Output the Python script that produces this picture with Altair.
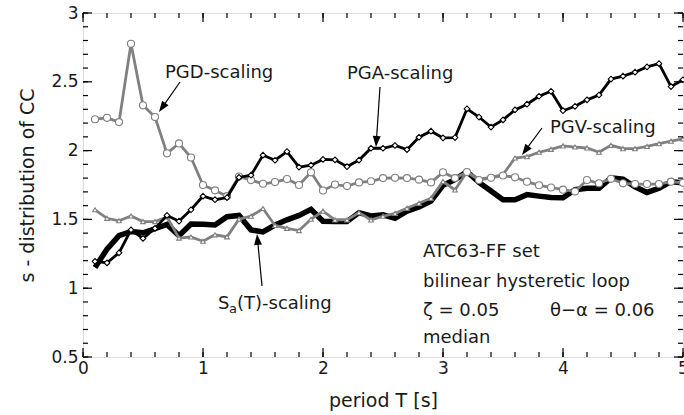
import math
import altair as alt
import pandas as pd

# ---------------- data ----------------
T = [round(0.1 * i, 1) for i in range(1, 51)]

PGA = [1.195, 1.184, 1.257, 1.424, 1.362, 1.435, 1.529, 1.487, 1.570, 1.669,
       1.643, 1.659, 1.805, 1.821, 1.967, 1.930, 1.993, 1.880, 1.894, 1.936,
       1.933, 1.883, 1.931, 2.017, 2.017, 2.037, 2.007, 2.097, 2.141, 2.092,
       2.095, 2.304, 2.244, 2.171, 2.223, 2.296, 2.337, 2.395, 2.431, 2.290,
       2.322, 2.369, 2.404, 2.520, 2.541, 2.570, 2.608, 2.632, 2.465, 2.515]

PGD = [2.228, 2.238, 2.207, 2.776, 2.329, 2.244, 1.980, 2.052, 1.950, 1.750,
       1.711, 1.669, 1.812, 1.786, 1.759, 1.771, 1.793, 1.750, 1.842, 1.710,
       1.753, 1.742, 1.769, 1.777, 1.800, 1.802, 1.800, 1.789, 1.769, 1.842,
       1.800, 1.844, 1.786, 1.802, 1.819, 1.806, 1.774, 1.748, 1.732, 1.716,
       1.702, 1.786, 1.762, 1.795, 1.762, 1.757, 1.757, 1.757, 1.774, 1.766]

PGV = [1.570, 1.508, 1.490, 1.525, 1.484, 1.484, 1.518, 1.364, 1.372, 1.341,
       1.388, 1.373, 1.502, 1.523, 1.579, 1.456, 1.435, 1.419, 1.501, 1.560,
       1.496, 1.496, 1.549, 1.496, 1.523, 1.544, 1.581, 1.617, 1.654, 1.775,
       1.714, 1.847, 1.792, 1.806, 1.826, 1.946, 1.956, 1.988, 2.009, 2.034,
       2.026, 2.019, 1.988, 2.038, 2.014, 2.014, 2.030, 2.050, 2.068, 2.085]

SA = [1.151, 1.283, 1.382, 1.412, 1.403, 1.432, 1.463, 1.382, 1.466, 1.464,
      1.460, 1.520, 1.529, 1.424, 1.409, 1.459, 1.497, 1.529, 1.573, 1.487,
      1.484, 1.484, 1.549, 1.525, 1.533, 1.508, 1.560, 1.591, 1.633, 1.748,
      1.789, 1.847, 1.769, 1.706, 1.643, 1.643, 1.680, 1.669, 1.659, 1.657,
      1.716, 1.726, 1.726, 1.802, 1.792, 1.737, 1.696, 1.726, 1.774, 1.766]

X_TICKS = [0, 1, 2, 3, 4, 5]
X_MINOR = [round(0.2 * i, 1) for i in range(26)]
Y_TICKS = [0.5, 1.0, 1.5, 2.0, 2.5, 3.0]
Y_MINOR = [round(0.5 + 0.1 * i, 1) for i in range(26)]

# ---------------- layout ----------------
PAD_L, PAD_T = 83, 13
W, H = 600, 344
FONT = "DejaVu Sans"
GREY = "#808080"
TXT = "#1a1a1a"

df = pd.DataFrame({"T": T, "PGA": PGA, "PGD": PGD, "PGV": PGV, "SA": SA})

xs = alt.Scale(domain=[0, 5], nice=False, zero=False)
ys = alt.Scale(domain=[0.5, 3], nice=False, zero=False)

xaxis = alt.Axis(values=X_TICKS, format="d", title="period T [s]",
                 labelFontSize=17, labelFont=FONT, labelColor=TXT, labelPadding=3,
                 titleFontSize=19, titleFont=FONT, titleFontWeight="normal", titleColor=TXT,
                 titleX=W / 2, titleY=43, titleBaseline="middle",
                 ticks=False, domain=False, grid=False, labelFlush=False)
yaxis = alt.Axis(values=Y_TICKS, format="~g", title="s - distribution of CC",
                 labelFontSize=17, labelFont=FONT, labelColor=TXT, labelPadding=5,
                 titleFontSize=19, titleFont=FONT, titleFontWeight="normal", titleColor=TXT,
                 titleX=-56, titleY=H / 2, titleAngle=270, titleAlign="center",
                 titleBaseline="middle",
                 ticks=False, domain=False, grid=False, labelFlush=False)

base = alt.Chart(df)

sa_line = base.mark_line(color="black", strokeWidth=5.5, strokeJoin="miter").encode(
    x=alt.X("T:Q", scale=xs, axis=xaxis), y=alt.Y("SA:Q", scale=ys, axis=yaxis))

def series(col, color, shape, size, width=2.8):
    line = base.mark_line(color=color, strokeWidth=width, strokeJoin="miter").encode(
        x=alt.X("T:Q", scale=xs), y=alt.Y(f"{col}:Q", scale=ys))
    pts = base.mark_point(shape=shape, size=size, filled=True, fill="white",
                          stroke=color, strokeWidth=1.1, opacity=1).encode(
        x=alt.X("T:Q", scale=xs), y=alt.Y(f"{col}:Q", scale=ys))
    return [line, pts]

layers = [sa_line]
layers += series("PGV", GREY, "triangle-up", 22)
layers += series("PGD", GREY, "circle", 50)
layers += series("PGA", "black", "diamond", 32)

# inward ticks on all four sides
def tick_rules(vals, length, orient):
    d = pd.DataFrame({"v": vals})
    c = alt.Chart(d).mark_rule(color="black", strokeWidth=1.2)
    if orient == "bottom":
        return c.encode(x=alt.X("v:Q", scale=xs), y=alt.value(H), y2=alt.value(H - length))
    if orient == "top":
        return c.encode(x=alt.X("v:Q", scale=xs), y=alt.value(0), y2=alt.value(length))
    if orient == "left":
        return c.encode(y=alt.Y("v:Q", scale=ys), x=alt.value(0), x2=alt.value(length))
    return c.encode(y=alt.Y("v:Q", scale=ys), x=alt.value(W), x2=alt.value(W - length))

for o in ["bottom", "top"]:
    layers.append(tick_rules(X_MINOR, 5, o))
    layers.append(tick_rules(X_TICKS, 9, o))
for o in ["left", "right"]:
    layers.append(tick_rules(Y_MINOR, 5, o))
    layers.append(tick_rules(Y_TICKS, 9, o))

# annotation arrows (page coordinates -> plot coordinates)
ARROWS = [((180, 82), (159, 112)),
          ((380, 87), (376, 147)),
          ((542, 128), (522, 155)),
          ((262, 286), (257, 234))]
rows_l, rows_h = [], []
HEAD = 11
for (sx, sy), (tx, ty) in ARROWS:
    sx, sy, tx, ty = sx - PAD_L, sy - PAD_T, tx - PAD_L, ty - PAD_T
    dx, dy = tx - sx, ty - sy
    n = math.hypot(dx, dy)
    ux, uy = dx / n, dy / n
    rows_l.append({"x": sx, "y": sy, "x2": tx - ux * 6, "y2": ty - uy * 6})
    ang = math.degrees(math.atan2(ux, -uy)) % 360
    rows_h.append({"x": tx - ux * HEAD / 2, "y": ty - uy * HEAD / 2, "a": ang})

arrow_lines = alt.Chart(pd.DataFrame(rows_l)).mark_rule(color="black", strokeWidth=1.2).encode(
    x=alt.X("x:Q", scale=None), y=alt.Y("y:Q", scale=None),
    x2="x2:Q", y2="y2:Q")
arrow_heads = alt.Chart(pd.DataFrame(rows_h)).mark_point(
    shape="M0,-1L0.72,1L-0.72,1Z", size=HEAD * HEAD, filled=True, color="black", opacity=1).encode(
    x=alt.X("x:Q", scale=None), y=alt.Y("y:Q", scale=None),
    angle=alt.Angle("a:Q", scale=None))
layers += [arrow_lines, arrow_heads]

# text annotations
def label(txt, px, py, size=18, align="left"):
    return alt.Chart(pd.DataFrame({"t": [txt]})).mark_text(
        font=FONT, fontSize=size, color=TXT, align=align, baseline="alphabetic").encode(
        x=alt.value(px - PAD_L), y=alt.value(py - PAD_T), text="t:N")

layers += [
    label("PGD-scaling", 165, 78),
    label("PGA-scaling", 347, 79),
    label("PGV-scaling", 550, 133),
    label("S", 218, 309),
    label("a", 229, 313, size=13),
    label("(T)-scaling", 237, 309),
    label("ATC63-FF set", 423, 257),
    label("bilinear hysteretic loop", 423, 287),
    label("\u03b6 = 0.05", 423, 316),
    label("\u03b8\u2212\u03b1 = 0.06", 550, 316),
    label("median", 423, 343),
]

chart = alt.layer(*layers).properties(
    width=W, height=H,
    autosize=alt.AutoSizeParams(type="none"),
    padding={"left": PAD_L, "top": PAD_T, "right": 1, "bottom": 415 - PAD_T - H},
).configure_view(stroke="black", strokeWidth=1.5).configure(background="white")

chart.save("out.html", embed_options={"renderer": "svg", "actions": False})
